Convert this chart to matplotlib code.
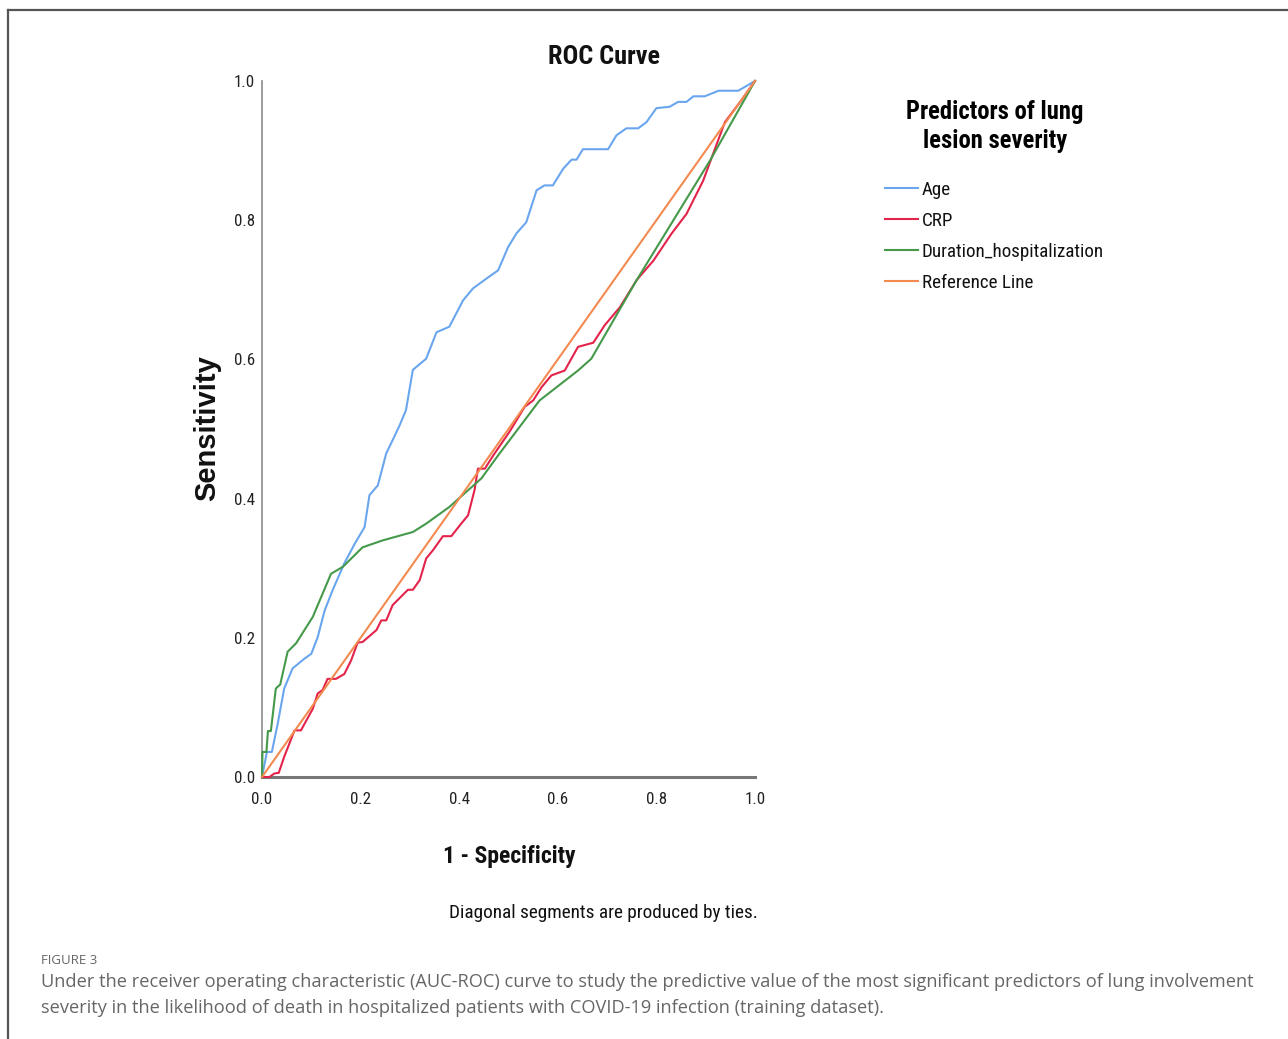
import matplotlib
matplotlib.use("Agg")
import matplotlib.pyplot as plt
from matplotlib import font_manager
from matplotlib.lines import Line2D

# ROC points (1 - specificity, sensitivity)
age_fpr = [0.0, 0.01, 0.02, 0.032, 0.045, 0.062, 0.086, 0.10, 0.113, 0.127, 0.143, 0.167,
           0.188, 0.208, 0.218, 0.235, 0.252, 0.265, 0.279, 0.292, 0.306, 0.333, 0.354,
           0.380, 0.408, 0.428, 0.455, 0.479, 0.499, 0.516, 0.536, 0.557, 0.573, 0.590,
           0.611, 0.628, 0.638, 0.651, 0.702, 0.719, 0.739, 0.763, 0.780, 0.800, 0.827,
           0.844, 0.861, 0.875, 0.898, 0.926, 0.966, 1.0]
age_tpr = [0.0, 0.036, 0.036, 0.077, 0.127, 0.156, 0.170, 0.177, 0.201, 0.239, 0.268, 0.307,
           0.335, 0.359, 0.405, 0.419, 0.465, 0.484, 0.505, 0.527, 0.585, 0.601, 0.639,
           0.647, 0.685, 0.702, 0.716, 0.728, 0.761, 0.781, 0.797, 0.843, 0.850, 0.850,
           0.874, 0.887, 0.887, 0.902, 0.902, 0.922, 0.932, 0.932, 0.941, 0.961, 0.963,
           0.970, 0.970, 0.978, 0.978, 0.986, 0.986, 1.0]

crp_fpr = [0.0, 0.015, 0.025, 0.034, 0.045, 0.066, 0.079, 0.103, 0.113, 0.123, 0.133, 0.150,
           0.167, 0.181, 0.194, 0.204, 0.232, 0.242, 0.252, 0.265, 0.296, 0.306, 0.320,
           0.333, 0.347, 0.367, 0.384, 0.404, 0.418, 0.431, 0.438, 0.452, 0.469, 0.502,
           0.533, 0.550, 0.567, 0.587, 0.614, 0.641, 0.672, 0.695, 0.726, 0.760, 0.794,
           0.831, 0.861, 0.895, 0.919, 0.939, 0.970, 1.0]
crp_tpr = [0.0, 0.0, 0.005, 0.006, 0.029, 0.067, 0.067, 0.098, 0.120, 0.125, 0.141, 0.141,
           0.148, 0.168, 0.193, 0.194, 0.211, 0.225, 0.225, 0.247, 0.269, 0.269, 0.283,
           0.314, 0.326, 0.346, 0.346, 0.364, 0.376, 0.412, 0.443, 0.443, 0.462, 0.496,
           0.532, 0.541, 0.560, 0.577, 0.584, 0.618, 0.624, 0.649, 0.675, 0.714, 0.742,
           0.781, 0.809, 0.857, 0.903, 0.941, 0.970, 1.0]

dur_fpr = [0.0, 0.001, 0.009, 0.012, 0.018, 0.028, 0.037, 0.052, 0.069, 0.103, 0.140, 0.164,
           0.204, 0.245, 0.306, 0.333, 0.380, 0.445, 0.482, 0.563, 0.641, 0.668, 0.760,
           0.909, 1.0]
dur_tpr = [0.0, 0.036, 0.036, 0.066, 0.066, 0.127, 0.133, 0.180, 0.192, 0.230, 0.292, 0.302,
           0.330, 0.340, 0.352, 0.364, 0.388, 0.429, 0.465, 0.541, 0.584, 0.601, 0.714,
           0.886, 1.0]

ref_x = [0.0, 1.0]
ref_y = [0.0, 1.0]

series_names = ["Age", "CRP", "Duration_hospitalization", "Reference Line"]
series_colors = ["#6aa6ee", "#e3234a", "#45994a", "#f38a50"]
tick_values = [0.0, 0.2, 0.4, 0.6, 0.8, 1.0]

caption_head = "FIGURE 3"
caption_text = ("Under the receiver operating characteristic (AUC-ROC) curve to study the predictive "
                "value of the most significant predictors of lung involvement\n"
                "severity in the likelihood of death in hospitalized patients with COVID-19 "
                "infection (training dataset).")


def pick_font(names):
    available = {f.name for f in font_manager.fontManager.ttflist}
    for name in names:
        if name in available:
            return name
    return "DejaVu Sans"


narrow = pick_font(["Roboto Condensed", "Liberation Sans Narrow", "DejaVu Sans Condensed",
                    "Liberation Sans"])
arial = pick_font(["Liberation Sans", "DejaVu Sans"])
caption_font = pick_font(["Open Sans", "Noto Sans", "DejaVu Sans"])

W, H = 1288, 1039
fig = plt.figure(figsize=(W / 100, H / 100), dpi=100)

# page frame (top and left edges only, as cropped in the source)
fig.add_artist(Line2D([8 / W, 1.0], [1 - 10 / H, 1 - 10 / H], color="#555555", lw=1.6))
fig.add_artist(Line2D([8 / W, 8 / W], [0.0, 1 - 10 / H], color="#555555", lw=1.6))

ax = fig.add_axes([262 / W, 1 - 777 / H, 493 / W, 696 / H])
all_x = [age_fpr, crp_fpr, dur_fpr, ref_x]
all_y = [age_tpr, crp_tpr, dur_tpr, ref_y]
for xs, ys, name, color in zip(all_x, all_y, series_names, series_colors):
    ax.plot(xs, ys, color=color, lw=1.5, label=name, clip_on=False, zorder=3)

ax.set_xlim(0, 1)
ax.set_ylim(0, 1)
ax.set_xticks(tick_values)
ax.set_yticks(tick_values)
ax.set_xticklabels([f"{v:.1f}" for v in tick_values], fontfamily=narrow, fontsize=12.2)
ax.set_yticklabels([f"{v:.1f}" for v in tick_values], fontfamily=narrow, fontsize=12.2)
ax.tick_params(axis="both", length=0, colors="#222222")
ax.tick_params(axis="x", pad=11)
ax.tick_params(axis="y", pad=5)
for side in ["top", "right"]:
    ax.spines[side].set_visible(False)
ax.spines["left"].set_color("#8a8a8a")
ax.spines["left"].set_linewidth(1.2)
ax.spines["bottom"].set_color("#777777")
ax.spines["bottom"].set_linewidth(2.2)

fig.text(604 / W, 1 - 57 / H, "ROC Curve", ha="center", va="center",
         fontfamily=narrow, fontweight="bold", fontsize=18.9, color="#111111")
fig.text(207 / W, 1 - 428 / H, "Sensitivity", ha="center", va="center", rotation=90,
         fontfamily=arial, fontweight="bold", fontsize=21, color="#111111")
fig.text(509 / W, 1 - 856 / H, "1 - Specificity", ha="center", va="center",
         fontfamily=narrow, fontweight="bold", fontsize=17, color="#111111")
fig.text(603 / W, 1 - 913 / H, "Diagonal segments are produced by ties.", ha="center",
         va="center", fontfamily=narrow, fontsize=13.9, color="#111111")

handles, labels = ax.get_legend_handles_labels()
leg = fig.legend(handles, labels, loc="upper left", bbox_to_anchor=(872 / W, 1 - 87 / H),
                 frameon=False, title="Predictors of lung\nlesion severity",
                 prop={"family": narrow, "size": 13.7},
                 title_fontproperties={"family": narrow, "weight": "bold", "size": 17.7},
                 handlelength=1.7, handletextpad=0.22, labelspacing=0.68, borderpad=0.2)
leg.get_title().set_linespacing(1.25)
leg.get_title().set_multialignment("center")
leg._legend_box.sep = 20
for t in leg.get_texts():
    t.set_color("#111111")

fig.text(41 / W, 1 - 960 / H, caption_head, ha="left", va="center",
         fontfamily=caption_font, fontsize=9.5, color="#666666")
fig.text(41 / W, 1 - 995 / H, caption_text, ha="left", va="center", linespacing=1.6,
         fontfamily=caption_font, fontsize=13.15, color="#666666")

fig.savefig("out.png", dpi=100)
